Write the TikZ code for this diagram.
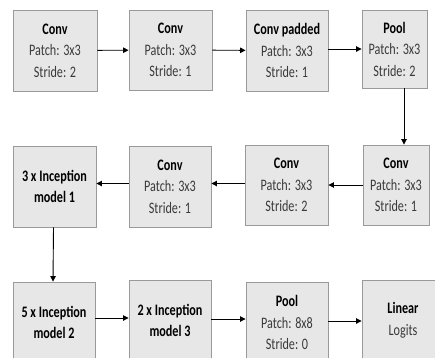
\documentclass[tikz,border=0pt]{standalone}
\usepackage{fontspec}
\setmainfont[FakeStretch=0.76]{Carlito}
\usetikzlibrary{arrows.meta}
\definecolor{boxfill}{HTML}{E7E7E7}
\definecolor{boxline}{HTML}{9A9A9A}
\definecolor{bodytext}{HTML}{3A3A3A}
\newcommand{\ttl}[1]{{\bfseries\color{black}#1}}
\tikzset{
  layer/.style={draw=boxline, fill=boxfill, line width=0.9pt, align=center,
    inner sep=0pt, text=bodytext, font=\fontsize{16}{21.5}\selectfont},
  flow/.style={draw=black, line width=0.9pt, -{Triangle[length=5.5pt,width=5.5pt]}}
}
\begin{document}
\begin{tikzpicture}[x=1pt,y=-1pt]
\useasboundingbox (0,0) rectangle (435,357);
\clip (0,0) rectangle (435,357);
% first row
\node[layer, minimum width=84pt, minimum height=81pt] (c1) at (55,50.5) {\ttl{Conv}\\Patch: 3x3\\Stride: 2};
\node[layer, minimum width=83pt, minimum height=80pt] (c2) at (170.5,50) {\ttl{Conv}\\Patch: 3x3\\Stride: 1};
\node[layer, minimum width=82pt, minimum height=81pt] (c3) at (287,50.5) {\ttl{Conv padded}\\Patch: 3x3\\Stride: 1};
\node[layer, minimum width=65pt, minimum height=78pt] (c4) at (394.5,49) {\ttl{Pool}\\Patch: 3x3\\Stride: 2};
% second row
\node[layer, minimum width=66pt, minimum height=80pt] (c7) at (396,185) {\ttl{Conv}\\Patch: 3x3\\Stride: 1};
\node[layer, minimum width=83pt, minimum height=80pt] (c6) at (286.5,185) {\ttl{Conv}\\Patch: 3x3\\Stride: 2};
\node[layer, minimum width=82pt, minimum height=81pt] (c5) at (170,186.5) {\ttl{Conv}\\Patch: 3x3\\Stride: 1};
\node[layer, minimum width=83pt, minimum height=81pt] (i1) at (54.5,186.5) {\ttl{3 x Inception}\\\ttl{model 1}};
% third row
\node[layer, minimum width=82pt, minimum height=81pt] (i2) at (54,322.5) {\ttl{5 x Inception}\\\ttl{model 2}};
\node[layer, minimum width=82pt, minimum height=81pt] (i3) at (170,320.5) {\ttl{2 x Inception}\\\ttl{model 3}};
\node[layer, minimum width=82pt, minimum height=81pt] (p2) at (287,322.5) {\ttl{Pool}\\Patch: 8x8\\Stride: 0};
\node[layer, minimum width=82pt, minimum height=81pt] (lin) at (403,320.5) {\ttl{Linear}\\Logits};
% connectors
\draw[flow] (c1) -- (c2);
\draw[flow] (c2) -- (c3);
\draw[flow] (c3.east |- c4.west) -- (c4.west);
\draw[flow] ([xshift=9.5pt]c4.south) -- ([xshift=8pt]c7.north);
\draw[flow] (c7.west |- c6.east) -- (c6.east);
\draw[flow] (c6.west |- 0,183.5) -- (c5.east |- 0,183.5);
\draw[flow] (c5.west |- 0,183.5) -- (i1.east |- 0,183.5);
\draw[flow] ([xshift=-1pt]i1.south) -- ([xshift=-1pt]i2.north);
\draw[flow] (i2.east |- 0,318) -- (i3.west |- 0,318);
\draw[flow] (i3.east |- 0,319) -- (p2.west |- 0,319);
\draw[flow] (p2.east |- 0,321) -- (lin.west |- 0,321);
\end{tikzpicture}
\end{document}
